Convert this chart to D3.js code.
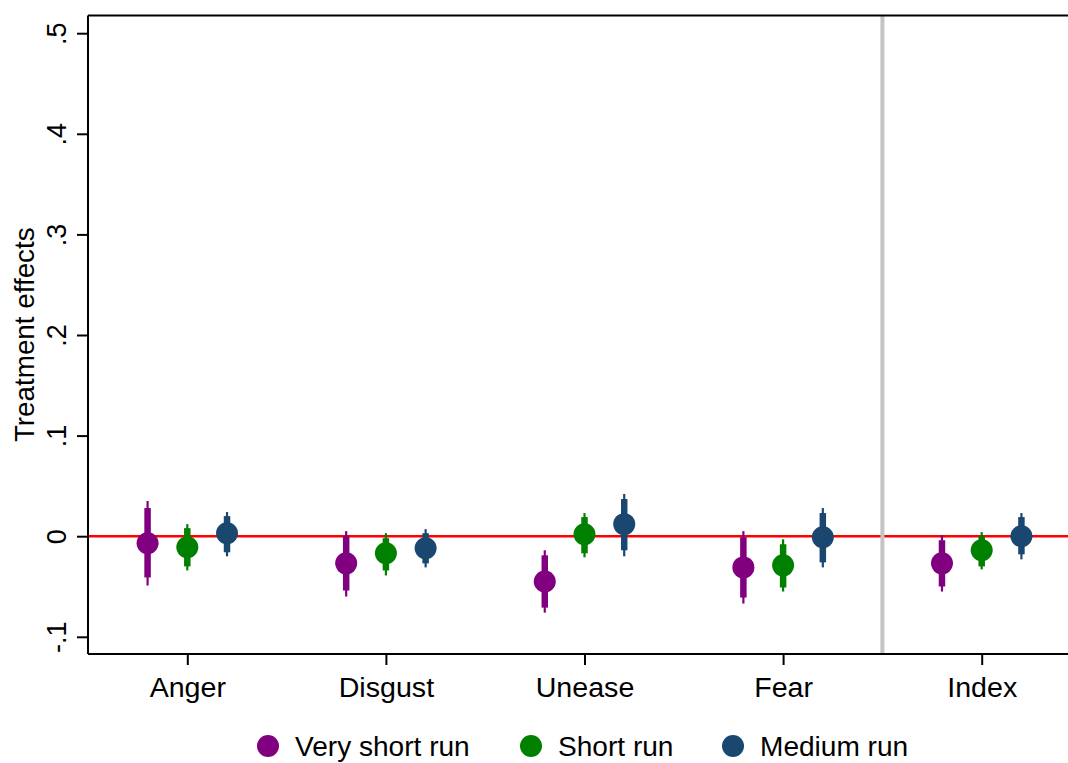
<!DOCTYPE html>
<html>
<head>
<meta charset="utf-8">
<script src="https://cdn.jsdelivr.net/npm/d3@7"></script>
<style>
  html, body { margin: 0; padding: 0; background: #fff; }
  svg { display: block; font-family: "Liberation Sans", Arial, Helvetica, sans-serif; }
</style>
</head>
<body>
<svg id="chart" width="1068" height="763"></svg>
<script>
// Outcome categories along the x axis
const categories = ["Anger", "Disgust", "Unease", "Fear", "Index"];

// Y axis ticks and their labels
const yTicks = [-0.1, 0, 0.1, 0.2, 0.3, 0.4, 0.5];
const yTickLabels = ["-.1", "0", ".1", ".2", ".3", ".4", ".5"];

// Series names and colours
const seriesNames = ["Very short run", "Short run", "Medium run"];
const seriesColors = ["#800080", "#008000", "#1a476f"];

// Point estimates per series (one per category)
const estVeryShort = [-0.007, -0.027, -0.045, -0.031, -0.027];
const estShort     = [-0.011, -0.017,  0.002, -0.029, -0.014];
const estMedium    = [ 0.003, -0.012,  0.012, -0.001,  0.000];

// 90% confidence bounds (thick bars)
const lo90VeryShort = [-0.041, -0.054, -0.071, -0.061, -0.050];
const hi90VeryShort = [ 0.028,  0.000, -0.019, -0.001, -0.004];
const lo90Short     = [-0.030, -0.034, -0.017, -0.051, -0.030];
const hi90Short     = [ 0.008, -0.002,  0.019, -0.008,  0.000];
const lo90Medium    = [-0.016, -0.027, -0.014, -0.026, -0.018];
const hi90Medium    = [ 0.020,  0.003,  0.037,  0.023,  0.019];

// 95% confidence bounds (thin bars)
const lo95VeryShort = [-0.049, -0.060, -0.076, -0.067, -0.055];
const hi95VeryShort = [ 0.035,  0.005, -0.014,  0.005,  0.001];
const lo95Short     = [-0.034, -0.039, -0.021, -0.055, -0.033];
const hi95Short     = [ 0.012,  0.003,  0.023, -0.003,  0.004];
const lo95Medium    = [-0.020, -0.031, -0.020, -0.031, -0.023];
const hi95Medium    = [ 0.024,  0.007,  0.042,  0.028,  0.023];

// Horizontal offset of each series within a category
const seriesOffsets = [-0.2, 0, 0.2];

// Position of the separator between emotions and the index
const separatorAt = 4.5;

const series = [
  { name: seriesNames[0], color: seriesColors[0], est: estVeryShort, lo90: lo90VeryShort, hi90: hi90VeryShort, lo95: lo95VeryShort, hi95: hi95VeryShort },
  { name: seriesNames[1], color: seriesColors[1], est: estShort,     lo90: lo90Short,     hi90: hi90Short,     lo95: lo95Short,     hi95: hi95Short },
  { name: seriesNames[2], color: seriesColors[2], est: estMedium,    lo90: lo90Medium,    hi90: hi90Medium,    lo95: lo95Medium,    hi95: hi95Medium }
];

const svg = d3.select("#chart");
const plot = { left: 88, right: 1081, top: 15.5, bottom: 654 };

const x = d3.scaleLinear().domain([0.5, categories.length + 0.5]).range([plot.left, plot.right]);
const y = d3.scaleLinear().domain([-0.1, 0.5]).range([636.8, 33.2]);

// Reference line at zero
svg.append("line")
  .attr("x1", plot.left).attr("x2", plot.right)
  .attr("y1", y(0)).attr("y2", y(0))
  .attr("stroke", "#ff0000").attr("stroke-width", 2.4);

// Separator line
svg.append("line")
  .attr("x1", x(separatorAt)).attr("x2", x(separatorAt))
  .attr("y1", plot.top).attr("y2", plot.bottom)
  .attr("stroke", "#c4c4c4").attr("stroke-width", 4);

// Top frame line
svg.append("line")
  .attr("x1", plot.left).attr("x2", plot.right)
  .attr("y1", plot.top).attr("y2", plot.top)
  .attr("stroke", "#000").attr("stroke-width", 2);

// Y axis
const yAxis = d3.axisLeft(y).tickValues(yTicks)
  .tickFormat((d, i) => yTickLabels[i]).tickSize(11).tickSizeOuter(0);
const gy = svg.append("g").attr("transform", `translate(${plot.left},0)`).call(yAxis);
gy.select(".domain").remove();
gy.append("line").attr("x1", 0).attr("x2", 0).attr("y1", plot.top).attr("y2", plot.bottom)
  .attr("stroke", "#000").attr("stroke-width", 2);
gy.selectAll(".tick line").attr("stroke", "#000").attr("stroke-width", 2);
gy.selectAll(".tick text")
  .attr("x", null).attr("dy", null)
  .attr("transform", "translate(-22,0) rotate(-90)")
  .attr("text-anchor", "middle")
  .attr("fill", "#000")
  .style("font-size", "27px");

// X axis
const xAxis = d3.axisBottom(x).tickValues(d3.range(1, categories.length + 1))
  .tickFormat((d) => categories[d - 1]).tickSize(11).tickSizeOuter(0);
const gx = svg.append("g").attr("transform", `translate(0,${plot.bottom})`).call(xAxis);
gx.select(".domain").remove();
gx.append("line").attr("x1", plot.left).attr("x2", plot.right).attr("y1", 0).attr("y2", 0)
  .attr("stroke", "#000").attr("stroke-width", 2);
gx.selectAll(".tick line").attr("stroke", "#000").attr("stroke-width", 2);
gx.selectAll(".tick text")
  .attr("y", null).attr("dy", null)
  .attr("transform", "translate(0,43) scale(1.06,1)")
  .attr("text-anchor", "middle")
  .attr("fill", "#000")
  .style("font-size", "27px");

// Y axis title
svg.append("text")
  .attr("transform", `translate(34,${(plot.top + plot.bottom) / 2}) rotate(-90) scale(1.03,1)`)
  .attr("text-anchor", "middle")
  .style("font-size", "27px")
  .text("Treatment effects");

// Estimates with confidence intervals
series.forEach((s, si) => {
  const g = svg.append("g");
  const rows = categories.map((c, i) => ({
    xv: i + 1 + seriesOffsets[si],
    est: s.est[i], lo90: s.lo90[i], hi90: s.hi90[i], lo95: s.lo95[i], hi95: s.hi95[i]
  }));
  g.selectAll("line.ci95").data(rows).join("line")
    .attr("x1", d => x(d.xv)).attr("x2", d => x(d.xv))
    .attr("y1", d => y(d.lo95)).attr("y2", d => y(d.hi95))
    .attr("stroke", s.color).attr("stroke-width", 2.2);
  g.selectAll("line.ci90").data(rows).join("line")
    .attr("x1", d => x(d.xv)).attr("x2", d => x(d.xv))
    .attr("y1", d => y(d.lo90)).attr("y2", d => y(d.hi90))
    .attr("stroke", s.color).attr("stroke-width", 6.5);
  g.selectAll("circle").data(rows).join("circle")
    .attr("cx", d => x(d.xv)).attr("cy", d => y(d.est))
    .attr("r", 11).attr("fill", s.color);
});

// Legend
const legendX = [268, 531, 733];
const legend = svg.append("g");
series.forEach((s, i) => {
  legend.append("circle").attr("cx", legendX[i]).attr("cy", 746).attr("r", 11).attr("fill", s.color);
  legend.append("text")
    .attr("transform", `translate(${legendX[i] + 27},756) scale(1.04,1)`)
    .style("font-size", "27px")
    .text(s.name);
});
</script>
</body>
</html>
